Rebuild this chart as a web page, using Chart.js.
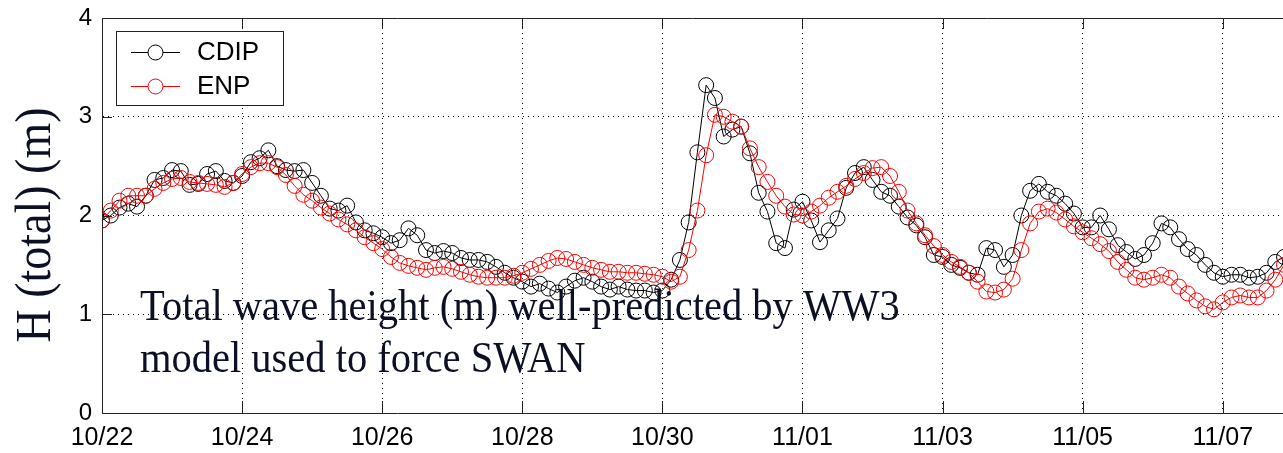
<!DOCTYPE html>
<html>
<head>
<meta charset="utf-8">
<title>H (total) - CDIP vs ENP</title>
<script src="https://cdn.jsdelivr.net/npm/chart.js@4/dist/chart.umd.min.js"></script>
<style>
    html, body { margin: 0; padding: 0; background: #fff; }
    #wrap { width: 1283px; height: 453px; }
</style>
</head>
<body>
<div id="wrap"><canvas id="waveChart" width="1283" height="453"></canvas></div>
<script>
// Total significant wave height, one sample every 3 h from 10/22 00:00
const stepHours = 3;

// CDIP buoy observations (m)
const cdip = [
    1.95, 2.00, 2.08, 2.12, 2.09, 2.20, 2.36, 2.38, 2.46, 2.45, 2.31, 2.32, 2.42, 2.45, 2.35, 2.33,
    2.40, 2.54, 2.58, 2.66, 2.50, 2.46, 2.45, 2.46, 2.33, 2.20, 2.07, 2.05, 2.10, 1.93, 1.85, 1.82,
    1.78, 1.72, 1.75, 1.87, 1.80, 1.65, 1.62, 1.64, 1.62, 1.57, 1.55, 1.55, 1.53, 1.48, 1.42, 1.37,
    1.33, 1.28, 1.31, 1.26, 1.22, 1.28, 1.34, 1.37, 1.33, 1.28, 1.25, 1.28, 1.25, 1.24, 1.24, 1.22,
    1.24, 1.35, 1.55, 1.93, 2.64, 3.32, 3.19, 2.80, 2.87, 2.90, 2.63, 2.23, 2.04, 1.72, 1.67, 2.06,
    2.14, 1.95, 1.73, 1.85, 1.97, 2.28, 2.43, 2.49, 2.36, 2.24, 2.20, 2.09, 1.98, 1.90, 1.78, 1.60,
    1.58, 1.50, 1.47, 1.42, 1.40, 1.67, 1.65, 1.48, 1.60, 2.00, 2.25, 2.32, 2.24, 2.20, 2.12, 2.02,
    1.88, 1.88, 2.00, 1.86, 1.70, 1.63, 1.56, 1.60, 1.72, 1.92, 1.88, 1.76, 1.66, 1.60, 1.50, 1.42,
    1.38, 1.40, 1.40, 1.37, 1.38, 1.42, 1.53, 1.58
];

// ENP (WW3) model hindcast (m)
const enp = [
    1.95, 2.05, 2.15, 2.20, 2.20, 2.20, 2.27, 2.33, 2.37, 2.38, 2.34, 2.33, 2.32, 2.31, 2.29, 2.33,
    2.42, 2.49, 2.53, 2.53, 2.49, 2.41, 2.30, 2.21, 2.15, 2.08, 2.02, 1.96, 1.91, 1.85, 1.78, 1.72,
    1.66, 1.58, 1.52, 1.49, 1.47, 1.45, 1.47, 1.48, 1.46, 1.43, 1.40, 1.38, 1.37, 1.37, 1.37, 1.39,
    1.42, 1.46, 1.50, 1.54, 1.57, 1.56, 1.53, 1.50, 1.47, 1.45, 1.43, 1.43, 1.42, 1.42, 1.41, 1.40,
    1.38, 1.33, 1.38, 1.65, 2.05, 2.61, 3.02, 3.00, 2.95, 2.90, 2.68, 2.49, 2.34, 2.20, 2.09, 2.01,
    2.00, 2.04, 2.10, 2.18, 2.24, 2.30, 2.37, 2.43, 2.48, 2.49, 2.40, 2.24, 2.05, 1.92, 1.80, 1.69,
    1.60, 1.53, 1.48, 1.42, 1.33, 1.23, 1.22, 1.25, 1.36, 1.65, 1.92, 2.04, 2.07, 2.03, 1.96, 1.89,
    1.83, 1.77, 1.71, 1.64, 1.53, 1.45, 1.37, 1.35, 1.37, 1.40, 1.37, 1.28, 1.21, 1.14, 1.08, 1.05,
    1.12, 1.17, 1.19, 1.17, 1.17, 1.24, 1.35, 1.50
];

// x axis: days since 10/22, labelled every 2 days
const dateLabels = ['10/22', '10/24', '10/26', '10/28', '10/30', '11/01', '11/03', '11/05', '11/07'];
const xMax = 16.86;

const noteLines = ['Total wave height (m) well-predicted by WW3', 'model used to force SWAN'];
const yTitle = 'H (total) (m)';

const navy = '#0b1024';
const toPoints = arr => arr.map((v, i) => ({ x: i * stepHours / 24, y: v }));

// MATLAB-style frame: top edge plus short inward tick marks
const frameTicks = {
    id: 'frameTicks',
    afterDatasetsDraw(chart) {
        const { ctx, chartArea: a, scales: { x, y } } = chart;
        ctx.save();
        ctx.strokeStyle = '#222';
        ctx.lineWidth = 1;
        ctx.beginPath();
        ctx.moveTo(a.left, a.top + 0.5);
        ctx.lineTo(a.right, a.top + 0.5);
        x.ticks.forEach(t => {
            const px = Math.round(x.getPixelForValue(t.value)) + 0.5;
            ctx.moveTo(px, a.bottom);
            ctx.lineTo(px, a.bottom - 12);
            ctx.moveTo(px, a.top);
            ctx.lineTo(px, a.top + 11);
        });
        y.ticks.forEach(t => {
            const py = Math.round(y.getPixelForValue(t.value)) + 0.5;
            ctx.moveTo(a.left, py);
            ctx.lineTo(a.left + 10, py);
        });
        ctx.stroke();
        ctx.restore();
    }
};

// legend box, axis title and the note text
const overlay = {
    id: 'overlay',
    afterDraw(chart) {
        const ctx = chart.ctx;
        ctx.save();

        // legend
        ctx.fillStyle = '#fff';
        ctx.fillRect(116, 31, 167, 74);
        ctx.strokeStyle = '#222';
        ctx.lineWidth = 1;
        ctx.strokeRect(116.5, 31.5, 167, 74);
        const entries = [['CDIP', '#000', 52], ['ENP', '#ff0000', 86]];
        entries.forEach(([name, color, ly]) => {
            ctx.strokeStyle = color;
            ctx.beginPath();
            ctx.moveTo(131, ly + 0.5);
            ctx.lineTo(180, ly + 0.5);
            ctx.stroke();
            ctx.beginPath();
            ctx.arc(155.5, ly + 0.5, 7.5, 0, Math.PI * 2);
            ctx.fillStyle = '#fff';
            ctx.fill();
            ctx.stroke();
            ctx.fillStyle = '#000';
            ctx.font = '26px "Liberation Sans", Arial, sans-serif';
            ctx.textBaseline = 'middle';
            ctx.textAlign = 'left';
            ctx.fillText(name, 197, ly + 1);
        });

        // y axis title
        ctx.fillStyle = navy;
        ctx.font = '50px "Liberation Serif", "Times New Roman", serif';
        ctx.textBaseline = 'alphabetic';
        ctx.textAlign = 'center';
        ctx.save();
        ctx.translate(50, 225);
        ctx.rotate(-Math.PI / 2);
        ctx.scale(0.92, 1);
        ctx.fillText(yTitle, 0, 0);
        ctx.restore();

        // note
        ctx.font = '45px "Liberation Serif", "Times New Roman", serif';
        ctx.textAlign = 'left';
        noteLines.forEach((line, i) => {
            ctx.save();
            ctx.translate(140, 320 + i * 52);
            ctx.scale(0.9, 1);
            ctx.fillText(line, 0, 0);
            ctx.restore();
        });

        ctx.restore();
    }
};

const seriesStyle = color => ({
    borderColor: color,
    borderWidth: 1,
    pointRadius: 7.5,
    pointHoverRadius: 7.5,
    pointBorderColor: color,
    pointBorderWidth: 1,
    pointBackgroundColor: 'rgba(0,0,0,0)',
    tension: 0,
    fill: false
});

const ctx = document.getElementById('waveChart').getContext('2d');
new Chart(ctx, {
    type: 'line',
    data: {
        datasets: [
            Object.assign({ label: 'CDIP', data: toPoints(cdip), order: 1 }, seriesStyle('#000')),
            Object.assign({ label: 'ENP', data: toPoints(enp), order: 0 }, seriesStyle('#ff0000'))
        ]
    },
    options: {
        responsive: false,
        animation: false,
        devicePixelRatio: 1,
        layout: { autoPadding: false, padding: { top: 18, right: 0, bottom: 0, left: 0 } },
        plugins: {
            legend: { display: false },
            tooltip: { enabled: false }
        },
        scales: {
            x: {
                type: 'linear',
                min: 0,
                max: xMax,
                afterFit: s => { s.height = 40; s.paddingLeft = 0; s.paddingRight = 0; },
                grid: { color: '#000', lineWidth: 1, drawTicks: false },
                border: { color: '#222', width: 1, dash: [1, 4] },
                ticks: {
                    stepSize: 2,
                    includeBounds: false,
                    autoSkip: false,
                    maxRotation: 0,
                    padding: 10,
                    color: '#000',
                    font: { family: '"Liberation Sans", Arial, sans-serif', size: 25 },
                    callback: v => dateLabels[Math.round(v / 2)]
                }
            },
            y: {
                min: 0,
                max: 4,
                afterFit: s => { s.width = 102; s.paddingTop = 0; s.paddingBottom = 0; },
                grid: { color: '#000', lineWidth: 1, drawTicks: false },
                border: { color: '#222', width: 1, dash: [1, 4] },
                ticks: {
                    stepSize: 1,
                    padding: 10,
                    color: '#000',
                    font: { family: '"Liberation Sans", Arial, sans-serif', size: 24 }
                }
            }
        }
    },
    plugins: [frameTicks, overlay]
});
</script>
</body>
</html>
